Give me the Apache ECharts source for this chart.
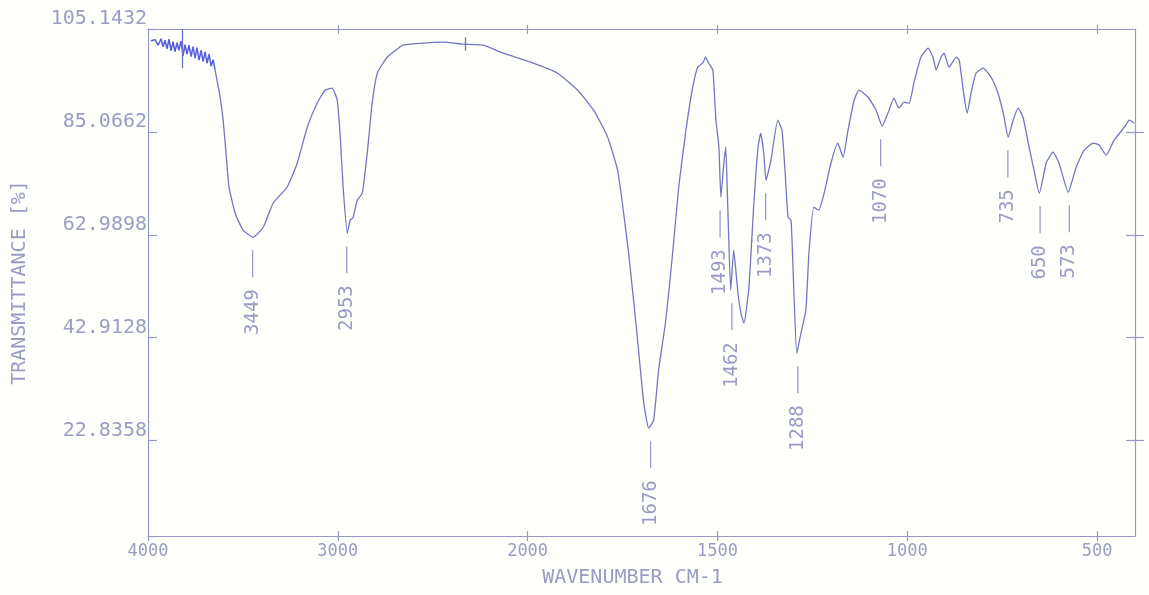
<!DOCTYPE html>
<html>
<head>
<meta charset="utf-8">
<script src="https://cdn.jsdelivr.net/npm/echarts@6/dist/echarts.min.js"></script>
<style>
html,body{margin:0;padding:0;background:#fffffc;}
#chart{width:1149px;height:595px;}
</style>
</head>
<body>
<div id="chart"></div>
<script>
// ---- data ----
const wavenumbers = [3985,3963,3947,3931,3921,3910,3900,3889,3879,3868,3858,3847,3837,3826,3815,3805,3794,3784,3773,3763,3752,3742,3731,3720,3710,3699,3689,3678,3668,3657,3647,3620,3604,3589,3573,3541,3499,3446,3393,3341,3267,3214,3161,3109,3067,3030,3003,2987,2972,2950,2935,2919,2898,2871,2845,2819,2792,2740,2681,2655,2550,2444,2339,2233,2128,1992,1921,1868,1826,1789,1763,1747,1734,1720,1707,1694,1681,1668,1655,1636,1618,1602,1583,1565,1552,1539,1531,1523,1512,1504,1496,1491,1483,1478,1473,1465,1457,1446,1438,1430,1417,1404,1393,1386,1378,1372,1359,1341,1330,1322,1314,1306,1299,1291,1280,1267,1259,1246,1233,1219,1201,1183,1169,1156,1140,1127,1103,1082,1066,1051,1035,1022,1008,995,982,964,945,932,924,911,903,890,871,863,850,842,832,819,800,779,761,747,734,721,708,695,679,666,652,634,616,600,576,555,534,510,494,476,455,428,415,402];
const transmittance = [102.8,103.0,101.9,103.2,101.6,102.9,101.2,103.1,100.8,102.6,100.6,102.4,100.9,102.7,99.8,102.0,100.1,101.9,99.6,101.6,99.3,101.4,98.9,100.9,98.6,100.6,98.3,100.1,97.7,99.0,97.0,91.5,86.9,80.3,73.5,68.3,64.9,63.5,65.5,70.3,73.5,78.3,85.5,90.3,92.9,93.3,90.9,83.5,73.5,64.3,66.9,67.5,70.9,72.3,80.3,90.3,96.3,99.5,101.3,101.9,102.3,102.5,102.1,101.9,100.3,98.5,96.3,92.9,88.9,83.5,76.9,68.3,60.3,50.3,40.3,30.3,25.3,26.9,36.9,46.9,60.3,73.5,84.9,93.5,97.5,98.3,99.5,98.3,96.9,86.9,81.5,71.5,78.3,81.5,70.3,52.9,60.9,52.3,48.3,46.3,53.5,70.3,81.5,84.3,80.3,74.9,78.9,86.9,84.9,76.9,67.5,66.9,53.5,40.3,44.3,48.9,60.3,69.5,68.9,72.3,78.3,82.3,79.5,84.9,90.9,92.9,91.5,88.9,85.7,88.3,91.3,89.3,90.5,90.3,94.5,99.5,101.3,99.5,96.9,99.5,100.3,97.5,99.5,98.9,91.5,88.3,92.3,96.3,97.3,95.5,92.3,88.3,83.5,86.9,89.3,87.5,81.5,76.9,72.3,78.3,80.5,78.3,72.5,77.5,80.9,82.3,81.9,79.9,82.9,85.5,86.9,86.3];
const peakLabels = [3449, 2953, 1676, 1493, 1462, 1373, 1288, 1070, 735, 650, 573];
// short vertical marks drawn by the plotter: wavenumber, upper and lower transmittance
const markWavenumbers = [3820, 2330];
const markTop = [105.1432, 103.5];
const markBottom = [97.3, 100.8];
const xTickLabels = [4000, 3000, 2000, 1500, 1000, 500];
const yTickLabels = ['105.1432', '85.0662', '62.9898', '42.9128', '22.8358'];

// ---- axis transform: 4000-2000 at one scale, 2000-400 expanded x2 (FTIR chart paper) ----
function toAxis(wn) { return wn >= 2000 ? 4000 - wn : 2000 + (2000 - wn) * 2; }
function fromAxis(u) { return u <= 2000 ? 4000 - u : 2000 - (u - 2000) / 2; }

const Y_MAX = 105.1432, Y_MIN = 3.74;
const yStep = (Y_MAX - 22.8358) / (yTickLabels.length - 1);
const yTickPos = yTickLabels.map((s, i) => Y_MAX - i * yStep);
const xTickPos = xTickLabels.map(toAxis);

function curveMinNear(wn) {
  let best = Infinity;
  for (let i = 0; i < wavenumbers.length; i++) {
    if (Math.abs(wavenumbers[i] - wn) <= 10) best = Math.min(best, transmittance[i]);
  }
  if (best === Infinity) {
    for (let i = 0; i < wavenumbers.length - 1; i++) {
      const a = wavenumbers[i], b = wavenumbers[i + 1];
      if (wn <= a && wn >= b) {
        const t = (a - wn) / (a - b);
        best = transmittance[i] + t * (transmittance[i + 1] - transmittance[i]);
        break;
      }
    }
  }
  return best;
}

const FRAME = '#9599c8';
const TEXT = '#999dc4';
const CURVE = '#7276c2';
const NOISE = '#5560dc';
const FONT = 'DejaVu Sans Mono';
const NOISE_END = 3640; // the noisy high-wavenumber part is plotted in a stronger blue

const allPoints = wavenumbers.map((w, i) => [toAxis(w), transmittance[i]]);
const noisyPart = allPoints.filter((p, i) => wavenumbers[i] >= NOISE_END);
const mainPart = allPoints.filter((p, i) => wavenumbers[i] < NOISE_END || (wavenumbers[i] >= NOISE_END && wavenumbers[i + 1] < NOISE_END));
const peakData = peakLabels.map(w => [toAxis(w), curveMinNear(w), w]);
const markLines = markWavenumbers.map((w, i) => [
  {coord: [toAxis(w), markTop[i]]}, {coord: [toAxis(w), markBottom[i]]}
]);

const chart = echarts.init(document.getElementById('chart'), null, {renderer: 'canvas'});
const tickStyle = {color: FRAME, width: 1.2};
chart.setOption({
  backgroundColor: '#fffffc',
  animation: false,
  grid: {left: 148, right: 14, top: 29, bottom: 59, containLabel: false},
  xAxis: [
    {
      type: 'value', position: 'bottom', min: 0, max: 5200,
      axisLine: {show: true, onZero: false, lineStyle: tickStyle},
      axisTick: {show: true, inside: false, length: 5, customValues: xTickPos, lineStyle: tickStyle},
      axisLabel: {
        customValues: xTickPos, margin: 7, color: TEXT, fontFamily: FONT, fontSize: 17,
        formatter: v => String(Math.round(fromAxis(v)))
      },
      splitLine: {show: false},
      name: 'WAVENUMBER CM-1', nameLocation: 'middle', nameGap: 32,
      nameTextStyle: {color: TEXT, fontFamily: FONT, fontSize: 20, padding: [0, 18, 0, 0]}
    },
    {
      type: 'value', position: 'bottom', min: 0, max: 5200,
      axisLine: {show: false, onZero: false},
      axisTick: {show: true, inside: true, length: 5, customValues: xTickPos.slice(1), lineStyle: tickStyle},
      axisLabel: {show: false}, splitLine: {show: false}
    },
    {
      type: 'value', position: 'top', min: 0, max: 5200,
      axisLine: {show: true, onZero: false, lineStyle: tickStyle},
      axisTick: {show: true, inside: true, length: 5, customValues: xTickPos.slice(1), lineStyle: tickStyle},
      axisLabel: {show: false}, splitLine: {show: false}
    },
    {
      type: 'value', position: 'top', min: 0, max: 5200,
      axisLine: {show: false, onZero: false},
      axisTick: {show: true, inside: false, length: 4, customValues: xTickPos.slice(1), lineStyle: tickStyle},
      axisLabel: {show: false}, splitLine: {show: false}
    }
  ],
  yAxis: [
    {
      type: 'value', position: 'left', min: Y_MIN, max: Y_MAX,
      axisLine: {show: true, onZero: false, lineStyle: tickStyle},
      axisTick: {show: true, inside: true, length: 9, customValues: yTickPos, lineStyle: tickStyle},
      axisLabel: {
        customValues: yTickPos, margin: 1, align: 'right', verticalAlign: 'bottom',
        color: TEXT, fontFamily: FONT, fontSize: 20,
        formatter: v => yTickLabels[Math.round((Y_MAX - v) / yStep)]
      },
      splitLine: {show: false},
      name: 'TRANSMITTANCE [%]', nameLocation: 'middle', nameGap: 118, nameRotate: 90,
      nameTextStyle: {color: TEXT, fontFamily: FONT, fontSize: 20}
    },
    {
      type: 'value', position: 'right', min: Y_MIN, max: Y_MAX,
      axisLine: {show: true, onZero: false, lineStyle: tickStyle},
      axisTick: {show: true, inside: true, length: 9, customValues: yTickPos.slice(1), lineStyle: tickStyle},
      axisLabel: {show: false}, splitLine: {show: false}
    },
    {
      type: 'value', position: 'right', min: Y_MIN, max: Y_MAX,
      axisLine: {show: false, onZero: false},
      axisTick: {show: true, inside: false, length: 9, customValues: yTickPos.slice(1), lineStyle: tickStyle},
      axisLabel: {show: false}, splitLine: {show: false}
    }
  ],
  series: [
    {
      type: 'line', data: noisyPart, xAxisIndex: 0, yAxisIndex: 0,
      showSymbol: false, smooth: false, silent: true,
      lineStyle: {width: 1.5, color: NOISE},
      markLine: {
        silent: true, symbol: ['none', 'none'], label: {show: false},
        lineStyle: {color: '#6a70c8', width: 1.3, type: 'solid'},
        data: markLines
      }
    },
    {
      type: 'line', data: mainPart, xAxisIndex: 0, yAxisIndex: 0,
      showSymbol: false, smooth: 0.15, silent: true,
      lineStyle: {width: 1.3, color: CURVE}
    },
    {
      type: 'custom', data: peakData, xAxisIndex: 0, yAxisIndex: 0, silent: true,
      renderItem: function (params, api) {
        const p = api.coord([api.value(0), api.value(1)]);
        const x = p[0], y = p[1];
        return {
          type: 'group',
          children: [
            {type: 'line', shape: {x1: x, y1: y + 13, x2: x, y2: y + 40},
             style: {stroke: TEXT, lineWidth: 1.3}},
            {type: 'text', x: x, y: y + 52, rotation: Math.PI / 2,
             style: {text: String(peakLabels[params.dataIndex]), fill: TEXT,
                     font: '19px "' + FONT + '"', align: 'right', verticalAlign: 'middle'}}
          ]
        };
      }
    }
  ]
});
</script>
</body>
</html>
